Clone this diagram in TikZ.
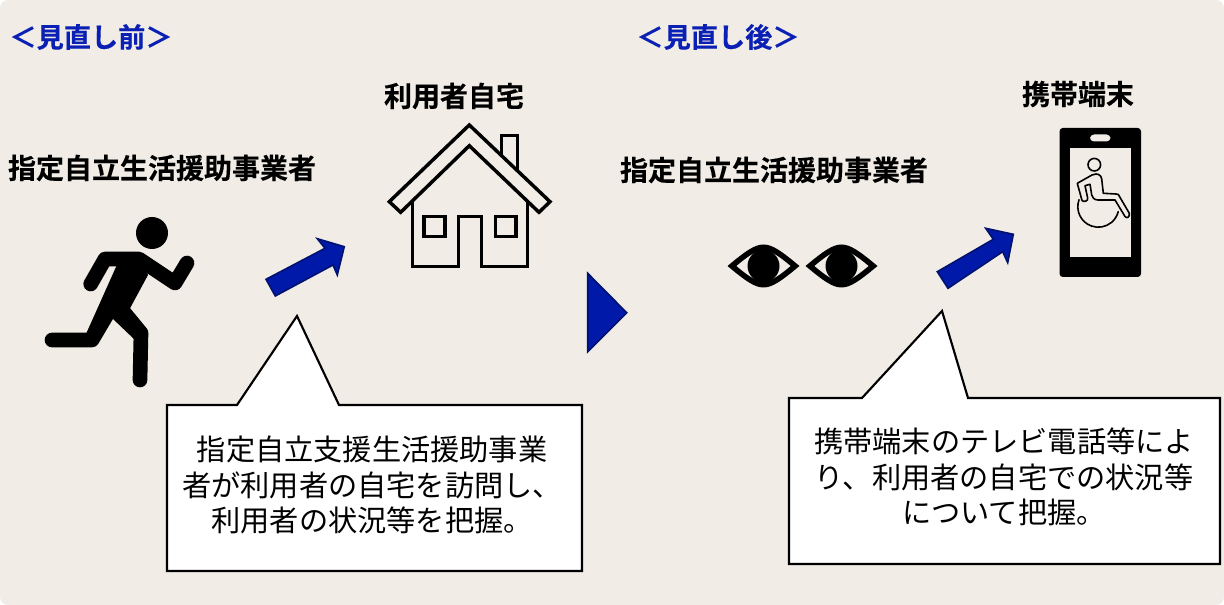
\documentclass[tikz,border=0pt]{standalone}
\usepackage{fontspec}
\setmainfont{Noto Sans CJK JP}
\newfontfamily\jpbold[FakeBold=0.25]{Noto Sans CJK JP Bold}
\definecolor{bgpanel}{HTML}{F1EDE6}
\definecolor{headblue}{HTML}{0A20B4}
\definecolor{arrowfill}{HTML}{0019A8}
\definecolor{arrowline}{HTML}{00126E}
\tikzset{
  panel/.style={fill=bgpanel,draw=none,rounded corners=6},
  headlabel/.style={inner sep=0,text=headblue,font=\jpbold\fontsize{20.4pt}{24pt}\selectfont},
  titlelabel/.style={inner sep=0,text=black,font=\jpbold\fontsize{21pt}{24pt}\selectfont},
  bodytext/.style={inner sep=0,align=center,text=black,font=\fontsize{21.9pt}{26.6pt}\selectfont},
  callout/.style={fill=white,draw=black,line width=1.6pt,line join=miter},
  blockarrow/.style={fill=arrowfill,draw=arrowline,line width=1.2pt,line join=miter},
  icon/.style={draw=black,line width=2.6pt,line join=miter,fill=none},
  limb/.style={draw=black,line width=11pt,line cap=round,line join=round},
  thinicon/.style={draw=black,line width=1.2pt,line cap=round,line join=round}
}
\begin{document}
\begin{tikzpicture}[x=0.75pt,y=-0.75pt]
\useasboundingbox (0,0) rectangle (1224,605);
\path[panel] (0,0) rectangle (1224,605);

% headings and titles
\node[headlabel] (before) at (91,37) {＜見直し前＞};
\node[headlabel] (after) at (718,37) {＜見直し後＞};
\node[titlelabel] (t1) at (162,168) {指定自立生活援助事業者};
\node[titlelabel] (t2) at (454,96) {利用者自宅};
\node[titlelabel] (t3) at (774,170) {指定自立生活援助事業者};
\node[titlelabel] (t4) at (1078,94) {携帯端末};

% runner
\fill[black] (152,233) circle (16);
\path[limb] (90.7,284) -- (105,259) -- (139,259) -- (175,283) -- (187,263);
\fill[black,line join=round] (120,258) -- (141,258) -- (148,275) -- (128,312) -- (146,335) -- (135,340) -- (112,318) -- (96,345) -- (86,334) -- cycle;
\path[limb] (118,296) -- (92,340) -- (52,340);
\path[limb] (118,305) -- (141,333) -- (140,380);

% house
\path[icon] (469.3,125) -- (550,201.7) -- (539,212.3) -- (469.3,145.7) -- (400.7,212.3) -- (389.3,201.7) -- cycle;
\path[icon] (412.7,200.7) -- (412.7,266.7) -- (458.3,266.7) -- (458.3,216.7) -- (481.7,216.7) -- (481.7,266.7) -- (527.3,266.7) -- (527.3,200.7);
\path[icon] (424,216.7) rectangle (445,236.7);
\path[icon] (495.7,216.7) rectangle (516,236.7);
\path[icon] (501.7,155) -- (501.7,135.7) -- (517.3,135.7) -- (517.3,170);

% arrows
\path[blockarrow] (266,279.3) -- (325,248.3) -- (317.3,238.7) -- (344.3,246.7) -- (337.3,275) -- (333,265) -- (275.3,296) -- cycle;
\path[blockarrow] (587.7,273.3) -- (626.7,312.7) -- (587.7,351.7) -- cycle;
\path[blockarrow] (937.3,271.7) -- (993.3,239.3) -- (985.7,228.3) -- (1013.3,234.3) -- (1007.7,262.7) -- (1002.7,251.7) -- (948,288.3) -- cycle;

% eyes
\foreach \cx in {763.5,841.5}{
  \fill[black] (\cx-36,266) .. controls (\cx-18,251) and (\cx-9,244.5) .. (\cx,244.5) .. controls (\cx+9,244.5) and (\cx+18,251) .. (\cx+36,266) .. controls (\cx+18,281) and (\cx+9,287.5) .. (\cx,287.5) .. controls (\cx-9,287.5) and (\cx-18,281) .. cycle;
  \fill[bgpanel] (\cx-27,266) .. controls (\cx-15,256) and (\cx-8,251) .. (\cx,251) .. controls (\cx+8,251) and (\cx+15,256) .. (\cx+27,266) .. controls (\cx+15,276) and (\cx+8,281) .. (\cx,281) .. controls (\cx-8,281) and (\cx-15,276) .. cycle;
  \fill[black] (\cx,266) circle (16);
}

% phone
\fill[black,rounded corners=2.5] (1059.5,128) rectangle (1141,277);
\fill[bgpanel] (1069.7,148.3) rectangle (1131,257);
\fill[bgpanel,rounded corners=3] (1090,134.5) rectangle (1110.5,141.5);
\path[thinicon] (1094.3,164.7) circle (6.3);
\path[thinicon] (1077.3,183.3) -- (1092,175) .. controls (1098,172.5) and (1101,175) .. (1101.7,179) -- (1103.3,193.3) -- (1116,194) -- (1118.3,194.5) -- (1129.3,213.3) .. controls (1130,217) and (1127,219) .. (1125,216.5) -- (1115,200) -- (1098,200) .. controls (1094,200) and (1092,197) .. (1091.7,195) -- (1090,184.3) -- (1085,185.7) -- (1087.7,198.3) .. controls (1088,201) and (1084,202.5) .. (1082,200.5) -- cycle;
\path[thinicon] (1098.3,206.7) ++(200:20.5) arc[start angle=200,end angle=14,radius=20.5];

% callouts
\path[callout] (167,405) -- (237,405) -- (297,316) -- (339,405) -- (582,405) -- (582,571) -- (167,571) -- cycle;
\node[bodytext] (c1) at (372,485) {指定自立支援生活援助事業\\者が利用者の自宅を訪問し、\\利用者の状況等を把握。};
\path[callout] (789,398) -- (862,398) -- (942,311) -- (968,398) -- (1220,398) -- (1220,564) -- (789,564) -- cycle;
\node[bodytext] (c2) at (1004,477) {携帯端末のテレビ電話等によ\\り、利用者の自宅での状況等\\について把握。};
\end{tikzpicture}
\end{document}
